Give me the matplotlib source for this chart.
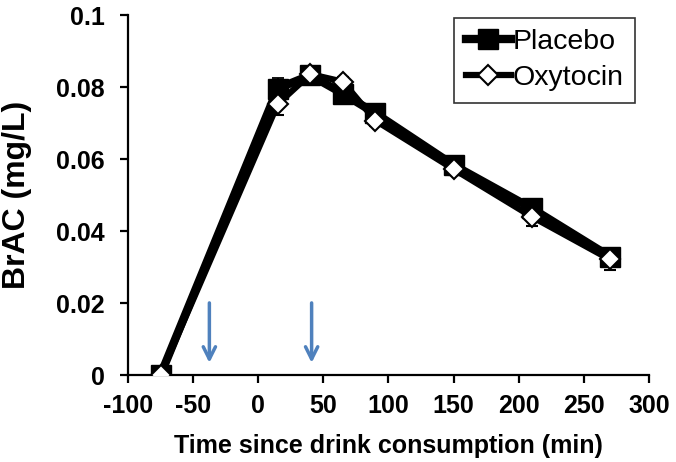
import numpy as np
import matplotlib.pyplot as plt

plt.rcParams['font.family'] = ['Liberation Sans', 'DejaVu Sans']
plt.rcParams['axes.unicode_minus'] = False

# time points (min) and breath alcohol (mg/L)
time_min = [-75, 15, 40, 65, 90, 150, 210, 270]
placebo = [0.0, 0.0796, 0.0833, 0.0782, 0.0727, 0.0583, 0.0463, 0.0329]
placebo_err = [0.0, 0.0030, 0.0015, 0.0015, 0.0015, 0.0015, 0.0020, 0.0020]
oxytocin = [0.0, 0.0753, 0.0836, 0.0815, 0.0707, 0.0572, 0.0440, 0.0321]
oxytocin_err = [0.0, 0.0030, 0.0012, 0.0012, 0.0015, 0.0015, 0.0025, 0.0030]
arrow_times = [-37.5, 41]

fig = plt.figure(figsize=(6.76, 4.62), dpi=100)
ax = fig.add_axes([0.1893, 0.1883, 0.7707, 0.779])

pl = ax.errorbar(time_min, placebo, yerr=placebo_err, color='black', lw=6,
                 marker='s', ms=14, mfc='black', mec='black', elinewidth=1.3,
                 capsize=4, capthick=1.3, zorder=2)
ox = ax.errorbar(time_min, oxytocin, yerr=oxytocin_err, color='black', lw=4.5,
                 marker='D', ms=10, mfc='white', mec='black', mew=1.5,
                 elinewidth=1.3, capsize=4, capthick=1.3, zorder=3)

for t in arrow_times:
    ax.annotate('', xy=(t, 0.0026), xytext=(t, 0.0208),
                arrowprops=dict(arrowstyle='->', color='#4f81bd', lw=2.5,
                                mutation_scale=22))

ax.set_xlim(-100, 300)
ax.set_ylim(0, 0.1)
ax.set_xticks(np.arange(-100, 301, 50))
ax.set_yticks([0, 0.02, 0.04, 0.06, 0.08, 0.1])
ax.set_yticklabels(['0', '0.02', '0.04', '0.06', '0.08', '0.1'])

for side in ['top', 'right']:
    ax.spines[side].set_visible(False)
for side in ['left', 'bottom']:
    ax.spines[side].set_linewidth(1.6)
ax.tick_params(direction='out', width=1.6, length=6, labelsize=18)
ax.tick_params(axis='x', pad=8)
ax.tick_params(axis='y', pad=10.5)
for lab in ax.get_xticklabels() + ax.get_yticklabels():
    lab.set_fontweight('bold')

ax.set_xlabel('Time since drink consumption (min)', fontsize=18,
              fontweight='bold', labelpad=11)
ax.set_ylabel('BrAC (mg/L)', fontsize=23, fontweight='bold')
ax.yaxis.set_label_coords(-0.184, 0.5)

leg = ax.legend([pl.lines[0], ox.lines[0]], ['Placebo', 'Oxytocin'],
                loc='upper right', bbox_to_anchor=(0.973, 0.992),
                borderaxespad=0, fontsize=20.5, frameon=True, fancybox=False,
                handlelength=1.6, handletextpad=0.05, borderpad=0.4,
                labelspacing=0.35)
leg.get_frame().set_edgecolor('black')
leg.get_frame().set_linewidth(1.2)

fig.savefig('out.png', dpi=100)
